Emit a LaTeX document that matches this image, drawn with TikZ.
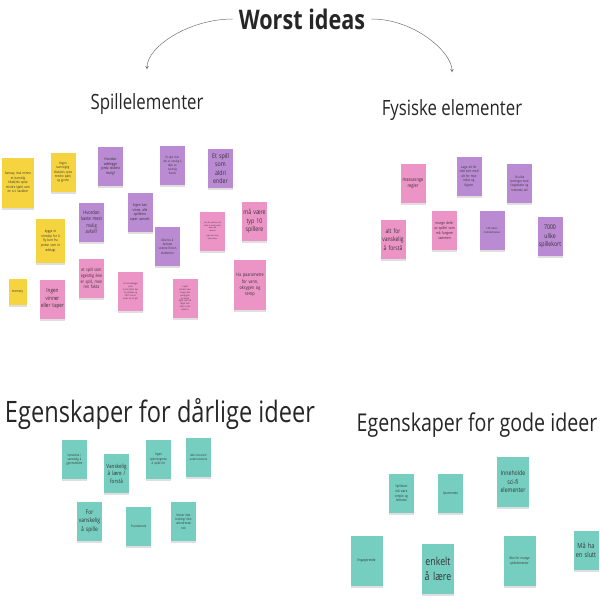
\documentclass[tikz,border=0pt]{standalone}
\usepackage{fontspec}
\setmainfont[FakeStretch=0.8]{Open Sans}
\usetikzlibrary{shapes,shadows,arrows}
\definecolor{ideayellow}{RGB}{245,212,64}
\definecolor{ideapurple}{RGB}{186,138,210}
\definecolor{ideapink}{RGB}{236,148,198}
\definecolor{ideateal}{RGB}{118,206,192}
\newcommand{\nf}[1]{\fontsize{#1}{\fpeval{1.3*#1}}\selectfont}
\tikzstyle{note}=[rectangle, minimum width=25pt, minimum height=39pt, text width=23pt, inner sep=1pt, align=center, text=black!80, drop shadow={shadow xshift=0.3pt, shadow yshift=-2pt, opacity=0.25}]
\tikzstyle{notemid}=[note, minimum width=29pt, minimum height=44pt, text width=27pt]
\tikzstyle{notebig}=[note, minimum width=32pt, minimum height=50pt, text width=30pt]
\tikzstyle{notesmall}=[note, minimum width=17pt, minimum height=26pt, text width=16pt]
\tikzstyle{heading}=[inner sep=3pt, text=black!85]
\tikzstyle{link}=[draw=black!55, line width=0.5pt, ->, >=stealth]
\newcommand{\idea}[6]{
	\node[#2, fill=#3, font=\nf{#4}] (#1) at (#5) {#6};}

\begin{document}
\begin{tikzpicture}[x=1pt,y=-1pt]
\useasboundingbox (0,0) rectangle (600,600);

\node[heading, inner sep=6pt, font=\fontsize{27}{30}\selectfont\bfseries] (title) at (302,19) {Worst ideas};
\node[heading, font=\fontsize{21}{24}\selectfont] (spill) at (147,104) {Spillelementer};
\node[heading, font=\fontsize{21}{24}\selectfont] (fysisk) at (452,110) {Fysiske elementer};
\node[heading, font=\fontsize{29.5}{34}\selectfont] (darlig) at (160,414) {Egenskaper for dårlige ideer};
\node[heading, font=\fontsize{24.5}{28}\selectfont] (god) at (477,425) {Egenskaper for gode ideer};

\path[link, shorten >=21pt] (title.west) to[out=180,in=90] (spill.north);
\path[link, shorten >=24pt] (title.east) to[out=0,in=90] (fysisk.north);

% spillelementer
\idea{fantasy}{notebig}{ideayellow}{3.5}{18,182.5}{fantasy, skal minne\\et barnslig\\tiltak(eks spise\\mindre kjøtt) som\\en sci- karakter}
\idea{barnslig}{note}{ideayellow}{3.3}{63,172.5}{Vegne\\barnsligtig\\tiltak(eks spise\\mindre kjøtt)\\og gjerne}
\idea{romskip}{notemid}{ideayellow}{3.5}{50.5,241}{bygge et\\romskip for å\\fly bort fra\\jorden som er\\ødelagt}
\idea{memory}{notesmall}{ideayellow}{3.5}{17.5,292}{memory}
\idea{odelegge}{note}{ideapurple}{3.8}{110.5,166.5}{Hvordan\\ødelegge\\jorda raskest\\mulig?}
\idea{avfall}{note}{ideapurple}{5}{91.5,222}{Hvordan\\kaste mest\\mulig\\avfall?}
\idea{ingenvinne}{note}{ideapurple}{3.8}{140,212.5}{Ingen kan\\vinne, alle\\spillerne\\taper uansett}
\idea{umulig}{note}{ideapurple}{3}{172.5,165.5}{Et spill hvor\\det er umulig å\\tåpe en\\barnslig\\fiende}
\idea{aldri}{note}{ideapurple}{6.6}{220.5,168.5}{Et spill\\som aldri\\ender}
\idea{scifi}{note}{ideapurple}{3.3}{167.5,246.5}{Ikke bo å\\benytte\\science fiction\\elementer}
\idea{fakta}{note}{ideapink}{4.5}{91.5,278.5}{et spill som\\egentlig ikke\\er spill, men\\ren fakta}
\idea{ingenvinner}{note}{ideapink}{5.8}{52.5,299}{Ingen\\vinner\\eller taper}
\idea{jorda}{note}{ideapink}{2.2}{130.5,291.5}{et som ødelegger\\jorda\\et som flytter den\\fra planeten og\\POST: hvis et\\ender når alt går}
\idea{regel}{note}{ideapink}{2}{212.5,231}{hvis alle spillerne ikke\\klarer å redde jorden\\taper alle\\sammen\\[3pt]ingen kan vinne\\spillet alene}
\idea{tispillere}{note}{ideapink}{6.6}{254.5,221.5}{må være\\typ 10\\spillere}
\idea{poeng}{note}{ideapink}{2.2}{185,298.5}{I spillet\\skal det være\\mange ulike\\poengtyper\\og mange\\regler som må\\følges hele\\tiden av alle\\spillerne}
\idea{parametre}{notebig}{ideapink}{4.8}{250,285}{Ha paarametre\\for vann,\\oksygen og\\temp}

% fysiske elementer
\idea{regler}{note}{ideapink}{5}{413,183.5}{massasnge\\regler}
\idea{smakort}{note}{ideapurple}{3.5}{469,176.5}{Lage alt for\\små kort med\\alt for mye\\tekst og\\figurer}
\idea{terninger}{note}{ideapurple}{3.3}{519.5,183.5}{18 ulike\\terninger med\\fargekoder og\\romerske tall}
\idea{forsta}{note}{ideapink}{6.3}{393,239.5}{alt for\\vanskelig\\å forstå}
\idea{deler}{note}{ideapink}{3.8}{444.5,230.5}{mange deler\\av spillet som\\må fungere\\sammen}
\idea{manual}{note}{ideapurple}{2.8}{492,230.5}{100 siders\\instruksmanual}
\idea{spillekort}{note}{ideapurple}{6.5}{550,236.5}{7000\\ulike\\spillekort}

% daarlige ideer
\idea{upraktisk}{note}{ideateal}{3.3}{74.5,459.5}{Upraktisk /\\vanskelig å\\gjennomføre}
\idea{vanskelig}{note}{ideateal}{5.8}{116.5,473.5}{Vanskelig\\å lære /\\forstå}
\idea{spenning}{note}{ideateal}{3.3}{158.5,459.5}{Ingen\\spenningmoe\\å spille for}
\idea{morsomt}{note}{ideateal}{3}{198.5,457}{Ikke morsomt/\\underholdende}
\idea{forvanskelig}{note}{ideateal}{6.2}{89.5,521.5}{For\\vanskelig\\å spille}
\idea{frustrerende}{note}{ideateal}{3.2}{138.5,526.5}{Frustrerende}
\idea{krever}{note}{ideateal}{3.3}{183.5,521.5}{Krever ikke\\tenking/ ikke\\utfordrende\\nok}

% gode ideer
\idea{lettleste}{note}{ideateal}{3.5}{401.5,493.5}{Spillekort\\må være\\simple og\\lettleste}
\idea{spennende}{note}{ideateal}{3.5}{450.5,493.5}{Spennende}
\idea{inneholde}{notebig}{ideateal}{6.5}{513,482}{Inneholde\\sci-fi\\elementer}
\idea{engasjerende}{notebig}{ideateal}{3.6}{366.5,561}{Engasjerende}
\idea{enkelt}{notebig}{ideateal}{11}{438,569}{enkelt\\å lære}
\idea{ikkemange}{notebig}{ideateal}{3.5}{519.5,561}{Ikke for mange\\spillelementer}
\idea{slutt}{note}{ideateal}{7}{586,550}{Må ha\\en slutt}
\end{tikzpicture}
\end{document}
